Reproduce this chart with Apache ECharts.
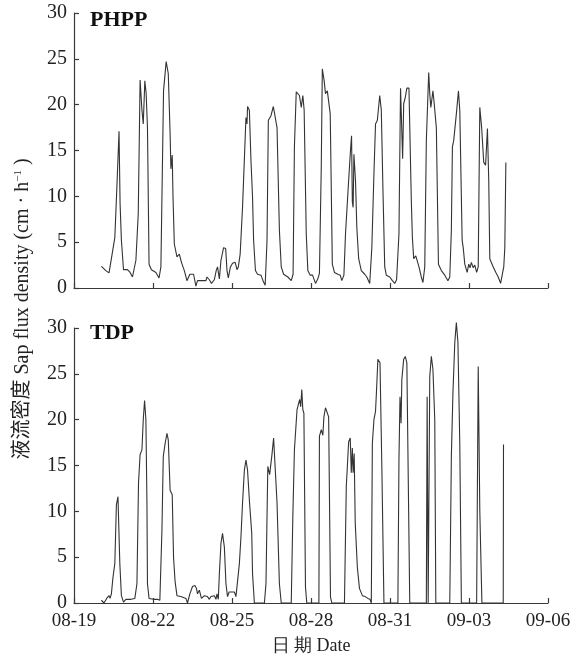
<!DOCTYPE html>
<html>
<head>
<meta charset="utf-8">
<script src="https://cdn.jsdelivr.net/npm/echarts@6/dist/echarts.min.js"></script>
<style>
html,body{margin:0;padding:0;background:#fff;}
#chart{width:578px;height:656px;}
</style>
</head>
<body>
<div id="chart"></div>
<script>
// x values: days since 08-19 00:00
var tickLabels = ['08-19','08-22','08-25','08-28','08-31','09-03','09-06'];
var panelTitles = ['PHPP','TDP'];

var phppDay = [1.04,1.21,1.27,1.33,1.42,1.48,1.55,1.62,1.71,1.75,1.80,1.88,2.03,2.13,2.22,2.35,2.44,2.51,2.58,2.63,2.69,2.74,2.79,2.85,2.94,3.11,3.23,3.30,3.40,3.50,3.58,3.65,3.68,3.73,3.76,3.81,3.91,4.00,4.08,4.19,4.29,4.40,4.54,4.63,4.69,5.01,5.05,5.14,5.22,5.33,5.40,5.45,5.52,5.58,5.68,5.76,5.81,5.86,5.94,6.02,6.12,6.19,6.24,6.31,6.40,6.53,6.57,6.59,6.66,6.72,6.78,6.82,6.89,6.97,7.10,7.19,7.26,7.33,7.38,7.48,7.57,7.64,7.71,7.80,7.87,7.96,8.12,8.25,8.32,8.37,8.44,8.50,8.56,8.63,8.69,8.74,8.82,8.88,8.97,9.06,9.17,9.26,9.32,9.39,9.43,9.50,9.55,9.62,9.67,9.73,9.81,9.89,10.02,10.11,10.17,10.25,10.31,10.40,10.49,10.54,10.57,10.60,10.63,10.69,10.74,10.81,10.91,11.04,11.12,11.23,11.31,11.39,11.45,11.52,11.56,11.61,11.67,11.73,11.80,11.86,11.99,12.09,12.18,12.25,12.34,12.40,12.44,12.48,12.52,12.58,12.64,12.72,12.81,12.85,12.90,12.98,13.04,13.10,13.19,13.25,13.32,13.38,13.47,13.51,13.55,13.60,13.63,13.67,13.76,13.84,13.95,14.08,14.20,14.27,14.33,14.37,14.42,14.52,14.60,14.65,14.74,14.78,14.84,14.93,14.99,15.04,15.09,15.16,15.22,15.29,15.35,15.41,15.48,15.56,15.63,15.70,15.75,15.79,15.92,16.02,16.11,16.20,16.26,16.32,16.36,16.40];
var phppFlux = [2.35,1.9,2.1,1.65,3.2,3.1,5.5,10.4,17.1,9.2,5.2,2.0,2.0,1.7,1.2,3.0,8.1,22.7,19.4,17.9,22.6,21.2,17.5,2.6,2.0,1.7,1.1,2.3,21.5,24.7,23.4,16.8,13.0,14.5,9.9,4.8,3.4,3.7,2.8,1.9,0.8,1.5,1.5,0.2,0.8,0.8,1.2,0.9,0.5,0.9,1.9,2.3,1.0,3.0,4.4,4.3,1.9,1.1,2.3,2.7,2.8,2.0,2.3,3.7,8.8,18.6,17.9,19.8,19.4,13.9,9.9,5.2,1.9,1.5,1.4,0.7,0.3,5.2,18.3,18.8,19.8,19.9,17.5,6.3,2.3,1.5,1.2,0.8,1.5,15.4,21.4,21.5,21.0,19.7,21.0,19.4,5.9,1.9,1.4,1.4,0.5,1.0,1.6,13.2,23.9,22.6,21.2,21.5,21.3,19.0,2.6,1.7,1.5,1.4,0.8,1.4,5.9,10.3,14.6,16.6,9.4,8.8,14.6,11.7,6.6,3.2,1.9,1.5,1.2,0.5,4.4,12.5,17.9,18.3,19.5,21.0,19.4,11.0,2.3,1.4,1.2,0.8,0.5,0.9,5.9,21.8,21.8,14.1,20.1,20.8,21.8,21.8,9.5,5.5,3.2,3.5,3.4,2.3,1.2,0.6,2.3,16.1,23.5,21.2,19.7,20.8,21.5,20.4,17.5,2.6,1.9,1.4,0.8,1.2,6.3,15.4,16.1,19.0,21.5,19.4,5.2,4.4,2.6,1.7,2.6,2.2,2.8,2.2,2.5,1.7,2.3,19.7,17.5,13.7,13.4,17.4,11.7,3.2,2.3,1.7,1.2,0.5,0.6,2.3,4.4,13.7];

var tdpDay = [1.04,1.14,1.24,1.33,1.37,1.42,1.48,1.55,1.61,1.67,1.74,1.80,1.88,1.97,2.16,2.31,2.39,2.45,2.51,2.58,2.63,2.68,2.73,2.77,2.79,2.85,3.02,3.17,3.26,3.34,3.39,3.46,3.53,3.58,3.65,3.73,3.78,3.84,3.91,4.06,4.12,4.25,4.31,4.40,4.50,4.59,4.65,4.69,4.76,4.84,4.95,5.07,5.14,5.20,5.26,5.33,5.39,5.43,5.48,5.52,5.58,5.64,5.71,5.77,5.83,5.89,6.09,6.15,6.21,6.28,6.34,6.40,6.47,6.53,6.59,6.66,6.75,6.78,6.85,7.23,7.29,7.36,7.43,7.51,7.58,7.65,7.71,7.80,7.87,8.25,8.31,8.37,8.47,8.52,8.57,8.61,8.65,8.69,8.73,8.79,8.84,9.30,9.32,9.39,9.45,9.49,9.55,9.62,9.67,9.74,9.79,10.27,10.34,10.43,10.49,10.53,10.57,10.60,10.64,10.68,10.76,10.84,10.95,11.06,11.16,11.24,11.29,11.33,11.39,11.45,11.49,11.54,11.62,11.69,11.77,12.30,12.34,12.38,12.42,12.45,12.52,12.58,12.64,12.75,13.38,13.41,13.45,13.49,13.51,13.57,13.63,13.70,13.74,14.27,14.33,14.39,14.46,14.52,14.58,14.65,14.71,15.29,15.35,15.41,15.49,16.30,16.31];
var tdpFlux = [0.3,0,0.5,0.8,0.5,1.0,2.8,4.3,10.7,11.6,4.3,0.8,0.1,0.4,0.4,0.5,2.1,13.1,16.2,16.7,20.0,22.1,20.0,10.9,2.1,0.5,0.4,0.4,0.3,8.0,16.0,17.4,18.5,17.8,12.3,11.8,5.0,2.3,0.8,0.7,0.5,0.5,0,1.0,1.8,1.9,1.6,1.0,1.4,0.5,0.8,0.7,0.4,0.7,0.5,0.8,0.4,1.0,0.4,3.2,6.5,7.6,6.1,2.1,0.7,1.2,1.2,0.7,0.7,4.3,7.2,10.9,14.5,15.6,14.5,11.2,7.6,3.2,0,0,2.1,14.9,14.0,16.0,18.0,18.0,10.9,2.1,0,0,9.4,16.7,21.1,21.3,22.2,21.4,23.3,21.1,20.7,1.75,0,0,18.2,18.9,18.3,20.3,21.3,21.3,20.3,0.65,0,0,12.7,17.6,18.0,14.2,16.9,14.2,16.3,8.7,3.9,1.6,0.8,0.7,0.5,0.4,0,17.4,20.0,20.9,23.3,26.6,26.2,14.9,0,0,15.6,22.5,19.6,24.4,26.6,26.9,26.2,0,0,22.5,0,0,24.7,26.9,25.5,20.0,0,0,16.0,22.9,28.4,30.6,28.4,17.4,0,0,25.8,10.1,0,0,17.3];

function pairs(xs, ys){ return xs.map(function(x,i){ return [x, ys[i]]; }); }

var serif = '"Liberation Serif", "Times New Roman", serif';
var axisColor = '#3a3a3a';
var textColor = '#222';

function xAxisCfg(gi, showLabels){
  return {
    type:'value', gridIndex:gi, min:0, max:18, interval:3,
    axisLine:{show:true, lineStyle:{color:axisColor, width:1.2}},
    axisTick:{show:true, inside:true, length:5, lineStyle:{color:axisColor, width:1.2}},
    axisLabel:{show:showLabels, color:textColor, fontFamily:serif, fontSize:19, margin:9,
      formatter:function(v){ return tickLabels[Math.round(v/3)]; }},
    splitLine:{show:false},
    name: showLabels ? '日 期 Date' : '',
    nameLocation:'middle', nameGap:34,
    nameTextStyle:{color:textColor, fontFamily:serif, fontSize:18}
  };
}
function yAxisCfg(gi){
  return {
    type:'value', gridIndex:gi, min:0, max:30, interval:5,
    axisLine:{show:true, lineStyle:{color:axisColor, width:1.2}},
    axisTick:{show:true, inside:true, length:5, lineStyle:{color:axisColor, width:1.2}},
    axisLabel:{color:textColor, fontFamily:serif, fontSize:20, margin:7},
    splitLine:{show:false}
  };
}

var chart = echarts.init(document.getElementById('chart'), null, {renderer:'canvas'});
chart.setOption({
  animation:false,
  backgroundColor:'#fff',
  grid:[
    {left:74, top:13, width:474, height:275},
    {left:74, top:328, width:474, height:275}
  ],
  xAxis:[xAxisCfg(0,false), xAxisCfg(1,true)],
  yAxis:[yAxisCfg(0), yAxisCfg(1)],
  graphic:[
    {type:'text', left:90, top:9, style:{text:panelTitles[0], fill:'#111', font:'bold 22px "Liberation Serif", serif'}},
    {type:'text', left:90, top:322, style:{text:panelTitles[1], fill:'#111', font:'bold 22px "Liberation Serif", serif'}},
    {type:'text', x:23, y:309, rotation:Math.PI/2,
      style:{text:'液流密度 Sap flux density (cm · h{sup|−1} )', fill:textColor,
        font:'20px "Liberation Serif", "Noto Sans CJK SC", serif', align:'center', verticalAlign:'middle',
        rich:{sup:{fontSize:11, fontFamily:serif, verticalAlign:'top', fill:textColor}}}}
  ],
  series:[
    {type:'line', xAxisIndex:0, yAxisIndex:0, data:pairs(phppDay, phppFlux), showSymbol:false, clip:false,
      lineStyle:{color:'#333', width:1.1}},
    {type:'line', xAxisIndex:1, yAxisIndex:1, data:pairs(tdpDay, tdpFlux), showSymbol:false, clip:false,
      lineStyle:{color:'#333', width:1.1}}
  ]
});
</script>
</body>
</html>
